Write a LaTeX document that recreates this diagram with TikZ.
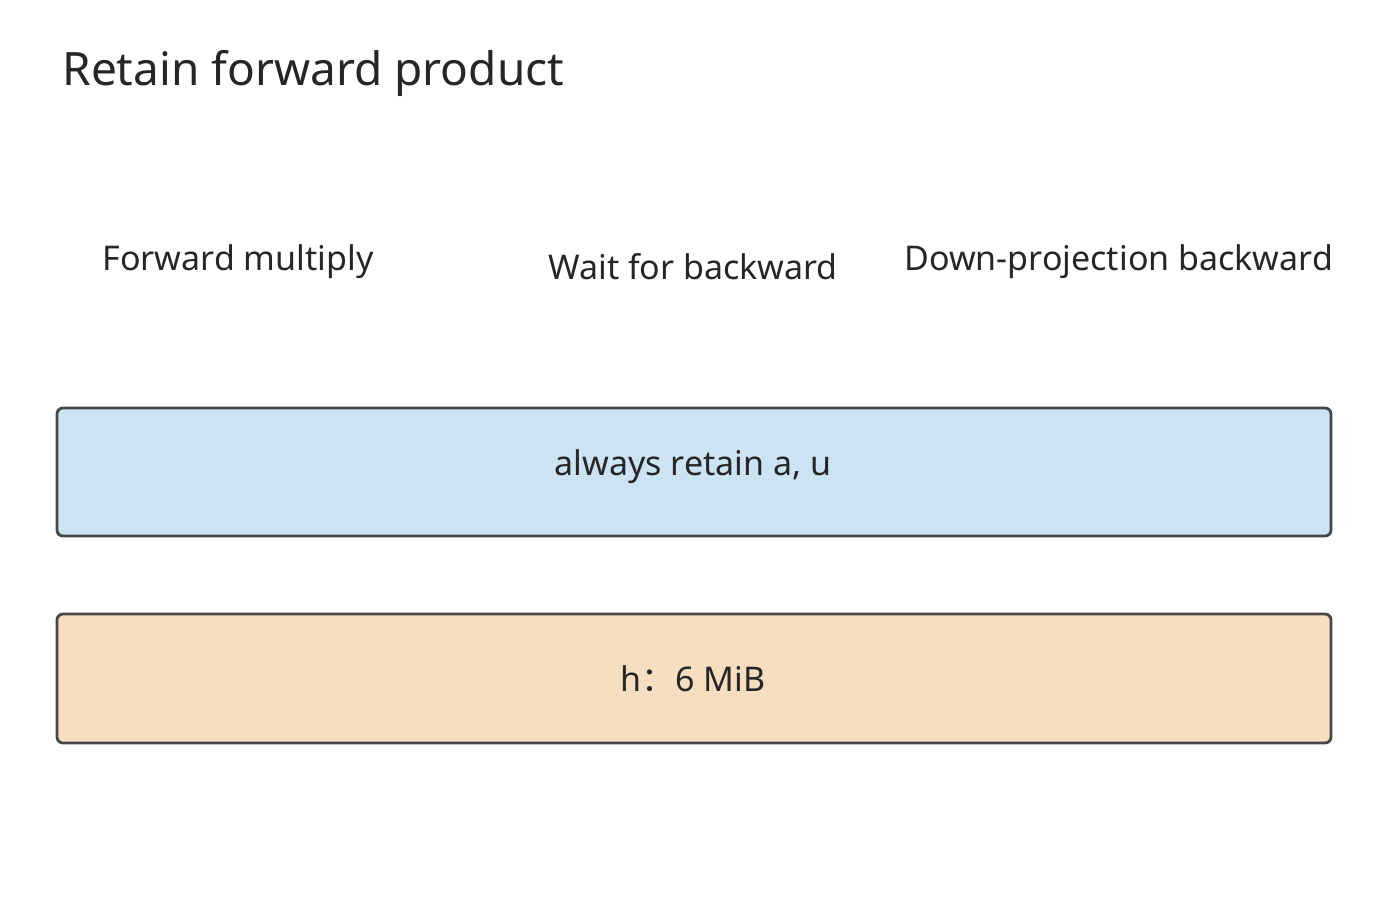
\documentclass[tikz,border=0pt]{standalone}
\usepackage{fontspec}
\setmainfont{Noto Sans}
\newfontfamily\cjk{Noto Sans CJK SC}
\begin{document}
\begin{tikzpicture}[x=0.5pt,y=-0.5pt,
  bar/.style={draw=black!72,line width=1.4pt,rounded corners=3pt},
  lab/.style={inner sep=0pt,text=black!85,font=\fontsize{17}{20}\selectfont}]
\useasboundingbox (0,0) rectangle (1400,909);
\node[inner sep=0pt,anchor=west,text=black!85,font=\fontsize{23}{27}\selectfont] (title) at (62,73) {Retain forward product};
\node[lab] (fm) at (238,262) {Forward multiply};
\node[lab] (wb) at (693,267) {Wait for backward};
\node[lab,anchor=west] (dp) at (904,262) {Down-projection backward};
\draw[bar,fill={rgb,255:red,204;green,227;blue,243}] (57,408) rectangle (1331,536);
\node[lab] (a) at (693,467) {always retain a, u};
\draw[bar,fill={rgb,255:red,248;green,222;blue,193}] (57,614) rectangle (1331,743);
\node[lab] (h) at (693,679) {h{\cjk ：}6 MiB};
\end{tikzpicture}
\end{document}
